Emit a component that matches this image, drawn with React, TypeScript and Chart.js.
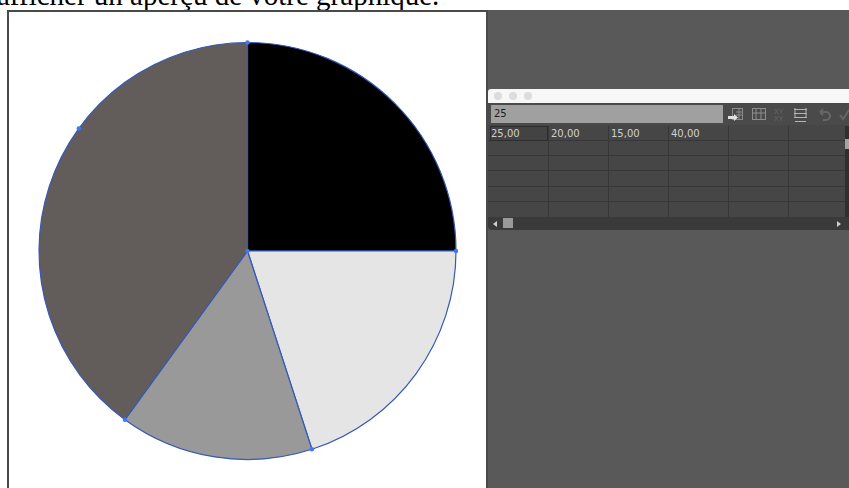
import React, { useEffect, useRef } from "react";
import { Chart, registerables } from "chart.js";

Chart.register(...registerables);

const shares = [25, 20, 15, 40];
const sliceColors = ["#000000", "#e5e5e5", "#999999", "#625d5b"];
const cellValues = ["25,00", "20,00", "15,00", "40,00", "", ""];
const inputValue = "25";
const caption = "afficher un aperçu de votre graphique.";
const columnEdges = [488, 548, 608, 668, 728, 788, 845];
const rowEdges = [140, 155, 170, 186, 201, 217];

// Square-ish handles on the slice corners, plus the extra anchor on the long arc.
const anchorHandles = {
  id: "anchorHandles",
  afterDatasetsDraw(chart: any) {
    const ctx = chart.ctx;
    const arcs = chart.getDatasetMeta(0).data;
    const dot = (x: number, y: number) => {
      ctx.fillStyle = "#3f78f0";
      ctx.beginPath();
      ctx.arc(x, y, 2.2, 0, Math.PI * 2);
      ctx.fill();
    };
    arcs.forEach((a: any) => {
      dot(a.x + a.outerRadius * Math.cos(a.startAngle), a.y + a.outerRadius * Math.sin(a.startAngle));
    });
    const last = arcs[arcs.length - 1];
    const along = last.startAngle + (last.endAngle - last.startAngle) * 0.625;
    dot(last.x + last.outerRadius * Math.cos(along), last.y + last.outerRadius * Math.sin(along));
    dot(last.x, last.y);
  },
};

function ToolIcons() {
  const c = "#8c8c8c";
  return (
    <svg width={130} height={20} style={{ position: "absolute", left: 722, top: 105 }}>
      <g fill="none" stroke={c} strokeWidth={1}>
        <rect x={10.5} y={3.5} width={10} height={11} />
        <path d="M14 7h6M14 10h6M17 4v10" />
        <rect x={30.5} y={3.5} width={13} height={11} />
        <path d="M34 4v10M39 4v10M31 8h12" />
      </g>
      <g fill="none" stroke="#b4b4b4" strokeWidth={1}>
        <path d="M73 3v9M84 3v9M72 4.5h13M72 8.5h13M72 12.5h13" />
        <path d="M73 16.5h11" />
      </g>
      <path d="M6 11h6v-2l4 3.5-4 3.5v-2H6z" fill="#e2e2e2" />
      <text x={52} y={9} fontSize={7} fill="#666" fontFamily="Liberation Sans">XY</text>
      <text x={52} y={16} fontSize={7} fill="#666" fontFamily="Liberation Sans">XY</text>
      <path d="M98 7h6a4 4 0 0 1 0 8h-3M98 7l3-3M98 7l3 3" fill="none" stroke="#666" strokeWidth={2} />
      <path d="M118 10l3 4 6-9" fill="none" stroke="#666" strokeWidth={2} />
    </svg>
  );
}

export default function App() {
  const canvasRef = useRef<HTMLCanvasElement>(null);

  useEffect(() => {
    const chart = new Chart(canvasRef.current!, {
      type: "pie",
      data: {
        labels: shares.map((v) => String(v)),
        datasets: [
          {
            data: shares,
            backgroundColor: sliceColors,
            borderColor: "#3658b8",
            borderWidth: 1.2,
            borderAlign: "center",
            hoverOffset: 0,
          } as any,
        ],
      },
      options: {
        responsive: false,
        animation: false,
        radius: 208.5,
        layout: { padding: 0 },
        plugins: { legend: { display: false }, tooltip: { enabled: false } },
      } as any,
      plugins: [anchorHandles],
    });
    return () => chart.destroy();
  }, []);

  const box = (left: number, top: number, width: number, height: number, style: React.CSSProperties = {}): React.CSSProperties => ({
    position: "absolute",
    left,
    top,
    width,
    height,
    boxSizing: "border-box",
    ...style,
  });

  return (
    <div style={{ position: "fixed", left: 0, top: 0, width: 849, height: 488, overflow: "hidden", background: "#fff" }}>
      <div style={{ position: "absolute", left: -3, top: -21, fontFamily: "'Liberation Serif', serif", fontSize: 29, color: "#000", whiteSpace: "nowrap", lineHeight: "33px" }}>
        {caption}
      </div>

      {/* Workspace and artboard frame, whose lower edge runs off the page */}
      <div style={box(487, 10, 362, 478, { background: "#595959" })} />
      <div style={box(7, 10, 481, 490, { background: "#fff", border: "2px solid #4a4a4a" })} />
      <canvas ref={canvasRef} width={475} height={476} style={{ position: "absolute", left: 10, top: 13 }} />

      {/* Floating data window */}
      <div style={box(488, 89, 361, 14, { background: "#f7f7f7", borderRadius: "3px 0 0 0" })}>
        {[0, 1, 2].map((i) => (
          <div key={i} style={box(6 + i * 15, 3, 8, 8, { borderRadius: "50%", background: "#dcdcdc" })} />
        ))}
      </div>
      <div style={box(488, 103, 361, 23, { background: "#4a4a4a" })} />
      <div style={box(491, 105, 232, 18, { background: "#a0a0a0", color: "#1c1c1c", font: "10px 'DejaVu Sans', sans-serif", lineHeight: "18px", paddingLeft: 3 })}>
        {inputValue}
      </div>
      <ToolIcons />

      <div style={box(488, 125, 357, 92, { background: "#464646" })} />
      {rowEdges.map((y) => (
        <div key={y} style={box(488, y, 357, 1, { background: "#373737" })} />
      ))}
      {columnEdges.slice(1).map((x) => (
        <div key={x} style={box(x, 126, 1, 91, { background: "#373737" })} />
      ))}
      <div style={box(490, 126, 58, 15, { border: "1px solid #2d2d2d", background: "#434343" })} />
      {cellValues.map((v, i) => (
        <div
          key={i}
          style={box(columnEdges[i] + 3, 126, 50, 15, { color: "#d0d0d0", font: "10px 'DejaVu Sans', sans-serif", lineHeight: "15px" })}
        >
          {v}
        </div>
      ))}

      {/* Scroll bars */}
      <div style={box(845, 126, 4, 91, { background: "#2f2f2f" })} />
      <div style={box(845, 139, 4, 10, { background: "#a3a3a3" })} />
      <div style={box(488, 217, 361, 13, { background: "#3a3a3a", borderRadius: "0 0 0 4px" })} />
      <div style={box(503, 218, 10, 10, { background: "#9a9a9a" })} />
      <div style={box(493, 221, 0, 0, { borderTop: "3px solid transparent", borderBottom: "3px solid transparent", borderRight: "4px solid #cfcfcf" })} />
      <div style={box(837, 221, 0, 0, { borderTop: "3px solid transparent", borderBottom: "3px solid transparent", borderLeft: "4px solid #cfcfcf" })} />
    </div>
  );
}
